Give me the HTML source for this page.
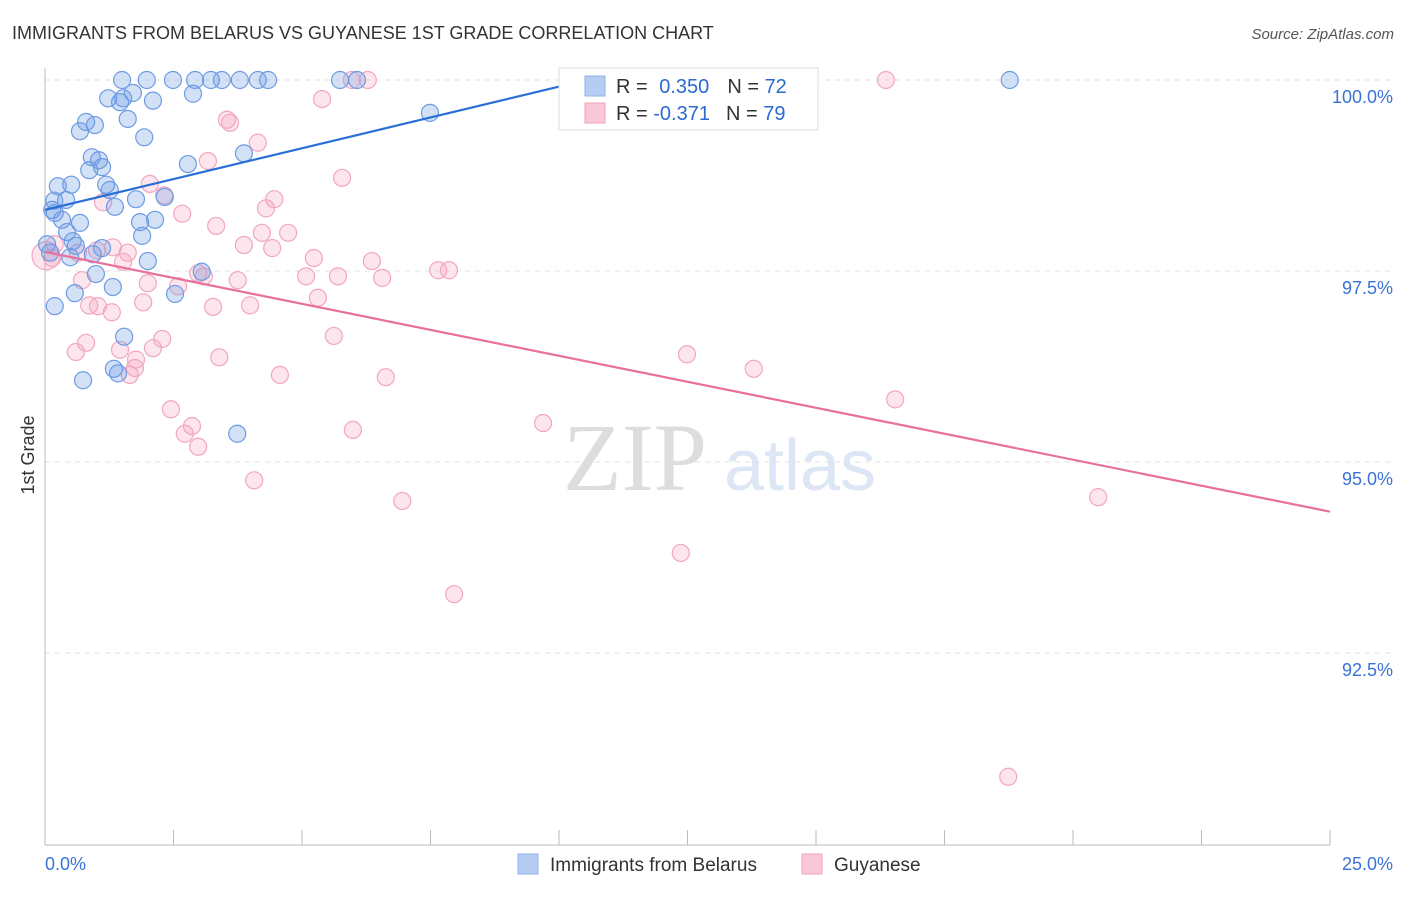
<!DOCTYPE html>
<html><head><meta charset="utf-8"><style>
body{margin:0;background:#fff;font-family:"Liberation Sans",sans-serif}
</style></head><body>
<svg id="c" width="1406" height="892" xmlns="http://www.w3.org/2000/svg">
<text x="12" y="39" font-size="18" fill="#333">IMMIGRANTS FROM BELARUS VS GUYANESE 1ST GRADE CORRELATION CHART</text>
<text x="1394" y="39" font-size="15" fill="#555" font-style="italic" text-anchor="end">Source: ZipAtlas.com</text>
<text x="34" y="455" font-size="18" fill="#333" transform="rotate(-90 34 455)" text-anchor="middle">1st Grade</text>
<g><text x="635" y="490" font-size="96" fill="#ddd" font-family="Liberation Serif,serif" text-anchor="middle">ZIP</text><text x="800" y="490" font-size="72" fill="#dce6f5" text-anchor="middle">atlas</text></g>
<g id="grid"></g><g id="axes"></g><g id="pts"></g><g id="lines"></g>
<g>
<rect x="559" y="68" width="259" height="62" fill="#fff" stroke="#ddd"/>
<rect x="585" y="76" width="20" height="20" fill="#b5cdf3" stroke="#8fb2ea"/>
<rect x="585" y="103" width="20" height="20" fill="#f8c8d7" stroke="#f0a0bb"/>
<text x="616" y="93" font-size="20" fill="#333">R = <tspan fill="#2b6ad1" dx="6">0.350</tspan><tspan dx="18">N = </tspan><tspan fill="#2b6ad1">72</tspan></text>
<text x="616" y="120" font-size="20" fill="#333">R = <tspan fill="#2b6ad1">-0.371</tspan><tspan dx="16">N = </tspan><tspan fill="#2b6ad1">79</tspan></text>
</g>
<g>
<rect x="518" y="854" width="20" height="20" fill="#b5cdf3" stroke="#8fb2ea"/>
<text x="550" y="871" font-size="19" fill="#333">Immigrants from Belarus</text>
<rect x="802" y="854" width="20" height="20" fill="#f8c8d7" stroke="#f0a0bb"/>
<text x="834" y="871" font-size="19" fill="#333">Guyanese</text>
</g>
</svg>
<script>
const yTicks=[100,97.5,95,92.5];
const yTickLabels=["100.0%","97.5%","95.0%","92.5%"];
const xEnds=["0.0%","25.0%"];
const blueX=[1.50,1.98,2.49,2.92,3.23,3.44,3.79,4.14,4.34,5.74,6.07,18.77,1.23,1.52,1.71,2.10,1.46,2.88,7.49,0.80,0.97,0.68,1.61,1.93,3.87,0.91,1.05,1.11,0.86,2.78,0.25,0.51,1.19,1.26,0.18,0.41,1.77,2.33,0.14,0.19,0.33,0.68,1.36,1.85,2.14,0.43,1.89,0.54,0.04,0.60,1.11,0.10,0.93,0.49,2.00,0.99,3.05,1.32,0.58,2.53,0.19,1.54,0.74,1.42,1.34,3.74];
const blueY=[100,100,100,100,100,100,100,100,100,100,100,100,99.76,99.76,99.83,99.73,99.71,99.82,99.57,99.45,99.41,99.33,99.49,99.25,99.04,98.99,98.95,98.86,98.82,98.90,98.61,98.63,98.63,98.56,98.42,98.43,98.44,98.47,98.30,98.26,98.17,98.13,98.34,98.14,98.17,98.01,97.96,97.89,97.85,97.83,97.80,97.74,97.72,97.68,97.63,97.46,97.49,97.29,97.21,97.20,97.04,96.64,96.07,96.16,96.22,95.37];
const pinkX=[16.36,5.97,6.28,5.39,3.54,3.60,4.14,3.17,5.78,2.04,2.32,1.13,4.46,4.30,2.67,3.33,4.73,4.22,3.87,4.42,0.19,0.14,0.64,1.01,1.32,1.61,1.52,5.23,6.36,7.65,7.86,2.98,3.09,3.75,5.08,5.70,6.56,0.72,2.00,2.59,5.31,0.86,1.03,1.30,3.27,3.99,1.91,5.62,0.80,0.60,1.46,2.10,2.28,1.77,3.39,12.49,13.79,1.65,4.57,6.63,1.75,16.54,2.45,2.86,2.72,5.99,9.69,2.98,4.07,6.95,20.49,12.37,7.96,18.74,0.02];
const pinkY=[100,100,100,99.75,99.48,99.44,99.18,98.94,98.72,98.64,98.49,98.40,98.44,98.32,98.25,98.09,98.00,98.00,97.84,97.80,97.85,97.67,97.74,97.77,97.81,97.74,97.62,97.67,97.63,97.51,97.51,97.47,97.43,97.38,97.43,97.43,97.41,97.38,97.34,97.30,97.15,97.05,97.04,96.96,97.03,97.05,97.09,96.65,96.56,96.44,96.47,96.49,96.61,96.34,96.37,96.41,96.22,96.14,96.14,96.11,96.23,95.82,95.69,95.47,95.37,95.42,95.51,95.20,94.76,94.49,94.54,93.81,93.27,90.88,97.70];
const blueTrend=[0,98.3,10.6,100.01];
const pinkTrend=[0,97.75,25,94.35];
const X=v=>45+v*51.4, Y=v=>80+(100-v)*76.4;
const NS="http://www.w3.org/2000/svg";
function mk(t,a,p){const e=document.createElementNS(NS,t);for(const k in a)e.setAttribute(k,a[k]);p.appendChild(e);return e;}
const G=document.getElementById('grid'),A=document.getElementById('axes'),P=document.getElementById('pts'),L=document.getElementById('lines');
yTicks.forEach((t,i)=>{
 const l=mk('line',{x1:45,x2:1392,y1:Y(t),y2:Y(t),stroke:'#e2e2e2','stroke-dasharray':'5,5'},G);
 
 
 const tx=mk('text',{x:1393,y:Y(t)+23,'font-size':18,fill:'#3a72d8','text-anchor':'end'},A);tx.textContent=yTickLabels[i];
 
 
});
const ax=mk('line',{x1:45,x2:45,y1:68,y2:845,stroke:'#bbb'},A);


const bx=mk('line',{x1:45,x2:1330,y1:845,y2:845,stroke:'#bbb'},A);


for(let i=0;i<=10;i++){const t=mk('line',{x1:X(i*2.5),x2:X(i*2.5),y1:830,y2:845,stroke:'#bbb'},A);
 
 }
[[0,'start',45],[25,'end',1393]].forEach((d,i)=>{const t=mk('text',{x:d[2],y:870,'font-size':18,fill:'#3a72d8','text-anchor':d[1]},A);t.textContent=xEnds[i];
 
 });
function pts(xs,ys,fill,stroke,name){xs.forEach((x,i)=>{const c=mk('circle',{cx:X(x),cy:Y(ys[i]),r:(i==xs.length-1&&name=='pink-point')?14:8.5,fill:fill,stroke:stroke,'stroke-width':1.2},P);
 
 });}
pts(pinkX,pinkY,'rgba(244,160,188,0.28)','#f2a6c0','pink-point');
pts(blueX,blueY,'rgba(110,155,230,0.3)','#6d9be3','blue-point');
const bl=mk('line',{x1:X(blueTrend[0]),y1:Y(blueTrend[1]),x2:X(blueTrend[2]),y2:Y(blueTrend[3]),stroke:'#2a6fd6','stroke-width':2.2},L);


const pl=mk('line',{x1:X(pinkTrend[0]),y1:Y(pinkTrend[1]),x2:X(pinkTrend[2]),y2:Y(pinkTrend[3]),stroke:'#e8709a','stroke-width':2.2},L);


</script>
</body></html>
